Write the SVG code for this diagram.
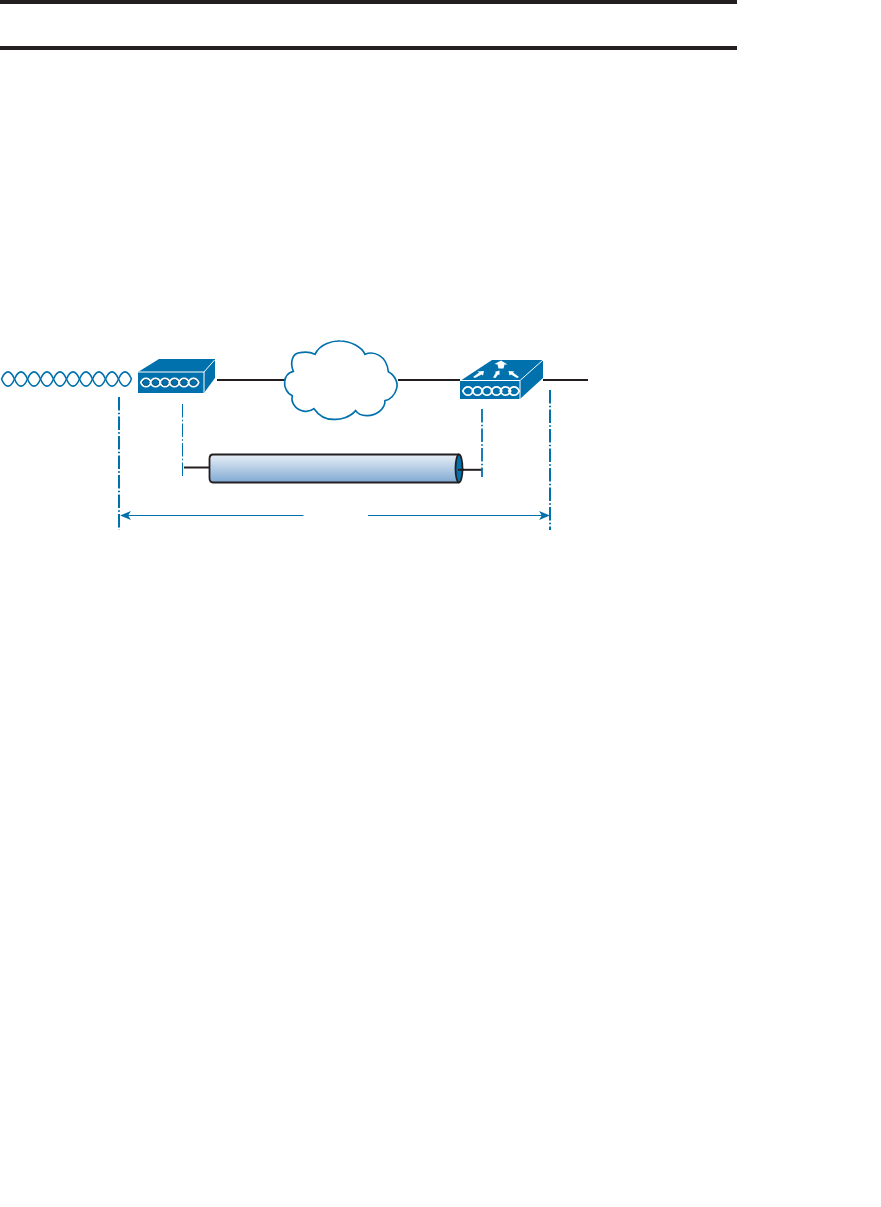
<svg xmlns="http://www.w3.org/2000/svg" width="881" height="1207" viewBox="0 0 881 1207">
<style>
.bar{fill:#231f20}
.k{stroke:#231f20;stroke-width:2;fill:none}
.dd1{stroke:#0071ad;fill:none;stroke-dasharray:13.500 2.200 1.600 2.200}
.arr{stroke:#0071ad;stroke-width:1.200;fill:none}
.blue{fill:#0071ad}
.edge{fill:none;stroke:#fff;stroke-width:1}
.ring{fill:none;stroke:#fff;stroke-width:1.800}
.ringd{fill:none;stroke:#231f20;stroke-width:.6}
.wave{fill:none;stroke:#0071ad;stroke-width:1.600}
.wh{fill:#fff}
</style>
<defs>
<linearGradient id="tubeG" x1="0" y1="0" x2="0" y2="1"><stop offset="0" stop-color="#e9eff7"/><stop offset="1" stop-color="#7fa9d3"/></linearGradient>
<marker id="ah" viewBox="0 0 12 10" markerWidth="11" markerHeight="9" refX="11" refY="5" orient="auto-start-reverse" markerUnits="userSpaceOnUse"><path d="M0,0 L12,5 L0,10 L3,5 Z" fill="#0071ad"/></marker>
<path id="lens" d="M-5.200,0 C-3,-5.600 3,-5.600 5.200,0 C3,5.600 -3,5.600 -5.200,0Z"/>
<g id="chainD"><use href="#lens" class="ring"/><use href="#lens" class="ringd" transform="scale(.72)"/></g>
<g id="chainW"><use href="#lens" class="ring"/></g>
</defs>
<rect class="bar" x="0" y="0" width="737" height="4"/>
<rect class="bar" x="0" y="46" width="737" height="4"/>
<g id="connectors">
<path class="k" d="M217 380H285"/>
<path class="k" d="M398 380H460"/>
<path class="k" d="M543 380H588"/>
<path class="k" d="M184 467.500H209"/>
<path class="k" d="M458 469.800H482"/>
<path class="dd1" stroke-width="2" d="M119 397V530"/>
<path class="dd1" stroke-width="1" d="M182.500 404V477"/>
<path class="dd1" stroke-width="1.800" d="M482 409V477"/>
<path class="dd1" stroke-width="2" d="M550 390V530"/>
<path class="arr" marker-start="url(#ah)" d="M121 515.500H303.500"/>
<path class="arr" marker-end="url(#ah)" d="M368 515.500H549"/>
</g>
<g id="wave">
<path class="wave" d="M1.500 379 C5.500 369.500 10.500 369.500 14.500 379 S23.500 388.500 27.500 379 S36.500 369.500 40.500 379 S49.500 388.500 53.500 379 S62.500 369.500 66.500 379 S75.500 388.500 79.500 379 S88.500 369.500 92.500 379 S101.500 388.500 105.500 379 S114.500 369.500 118.500 379 S127.500 388.500 131.500 379"/>
<path class="wave" d="M1.500 379 C5.500 388.500 10.500 388.500 14.500 379 S23.500 369.500 27.500 379 S36.500 388.500 40.500 379 S49.500 369.500 53.500 379 S62.500 388.500 66.500 379 S75.500 369.500 79.500 379 S88.500 388.500 92.500 379 S101.500 369.500 105.500 379 S114.500 388.500 118.500 379 S127.500 369.500 131.500 379"/>
</g>
<g id="device-left">
<path class="blue" d="M138 372L159 359H215V378L204 393H138Z"/>
<path class="edge" d="M138 372H204L214.500 360M204 372V393"/>
<use href="#chainD" x="146" y="382.500"/><use href="#chainD" x="155.500" y="382.500"/><use href="#chainD" x="165" y="382.500"/><use href="#chainD" x="174.500" y="382.500"/><use href="#chainD" x="184" y="382.500"/><use href="#chainD" x="193.500" y="382.500"/>
</g>
<g id="cloud">
<path transform="translate(270 330) scale(.3333)" fill="#fff" stroke="#0071ad" stroke-width="5" d="M70,124 C60,100 65,70 90,68 C105,65 125,68 135,73 C150,40 190,32 210,33 C240,33 275,50 285,73 C310,62 350,75 355,125 C375,135 385,160 380,175 C375,195 360,210 345,212 C345,240 315,258 290,257 C275,257 262,250 257,242 C240,262 210,270 190,268 C165,268 145,255 132,236 C115,250 85,245 72,225 C65,215 65,205 67,197 C50,190 42,170 44,155 C45,140 55,128 70,124 Z"/>
</g>
<g id="device-right">
<path class="blue" d="M460 381L492 360H543V378L520 399H460Z"/>
<path class="edge" d="M460 380.500H520L543 360M520 381V399"/>
<path class="wh" d="M501 360.500L507.500 364.500H504.500L503.500 368.500H498.500L497.500 364.500L494.500 364Z"/>
<path class="wh" d="M473 377L479 372.500L477.500 371.500L484 371L483 375.500L481.500 374.500L475 378Z"/>
<path class="wh" d="M493 377.500L496 372.500L494.500 372L499.500 370.500L499.500 375L498 374.500L495.500 378Z"/>
<path class="wh" d="M519 377L513 372.500L514.500 371.500L508.500 371L509.500 375.500L511 374.500L517 378Z"/>
<use href="#chainW" x="468" y="391"/><use href="#chainW" x="477.500" y="391"/><use href="#chainW" x="487" y="391"/><use href="#chainW" x="496.500" y="391"/><use href="#chainW" x="505.500" y="391"/><use href="#chainW" x="514" y="391"/>
</g>
<g id="tube">
<path fill="url(#tubeG)" stroke="#231f20" stroke-width="1.800" d="M213 454.500H458V482.500H213Q209.500 482.500 209.500 478V459Q209.500 454.500 213 454.500Z"/>
<ellipse cx="459" cy="468.500" rx="3.500" ry="14" fill="#0071ad" stroke="#231f20" stroke-width="1.800"/>
<path class="k" d="M458 469.800H464"/>
</g>
</svg>
